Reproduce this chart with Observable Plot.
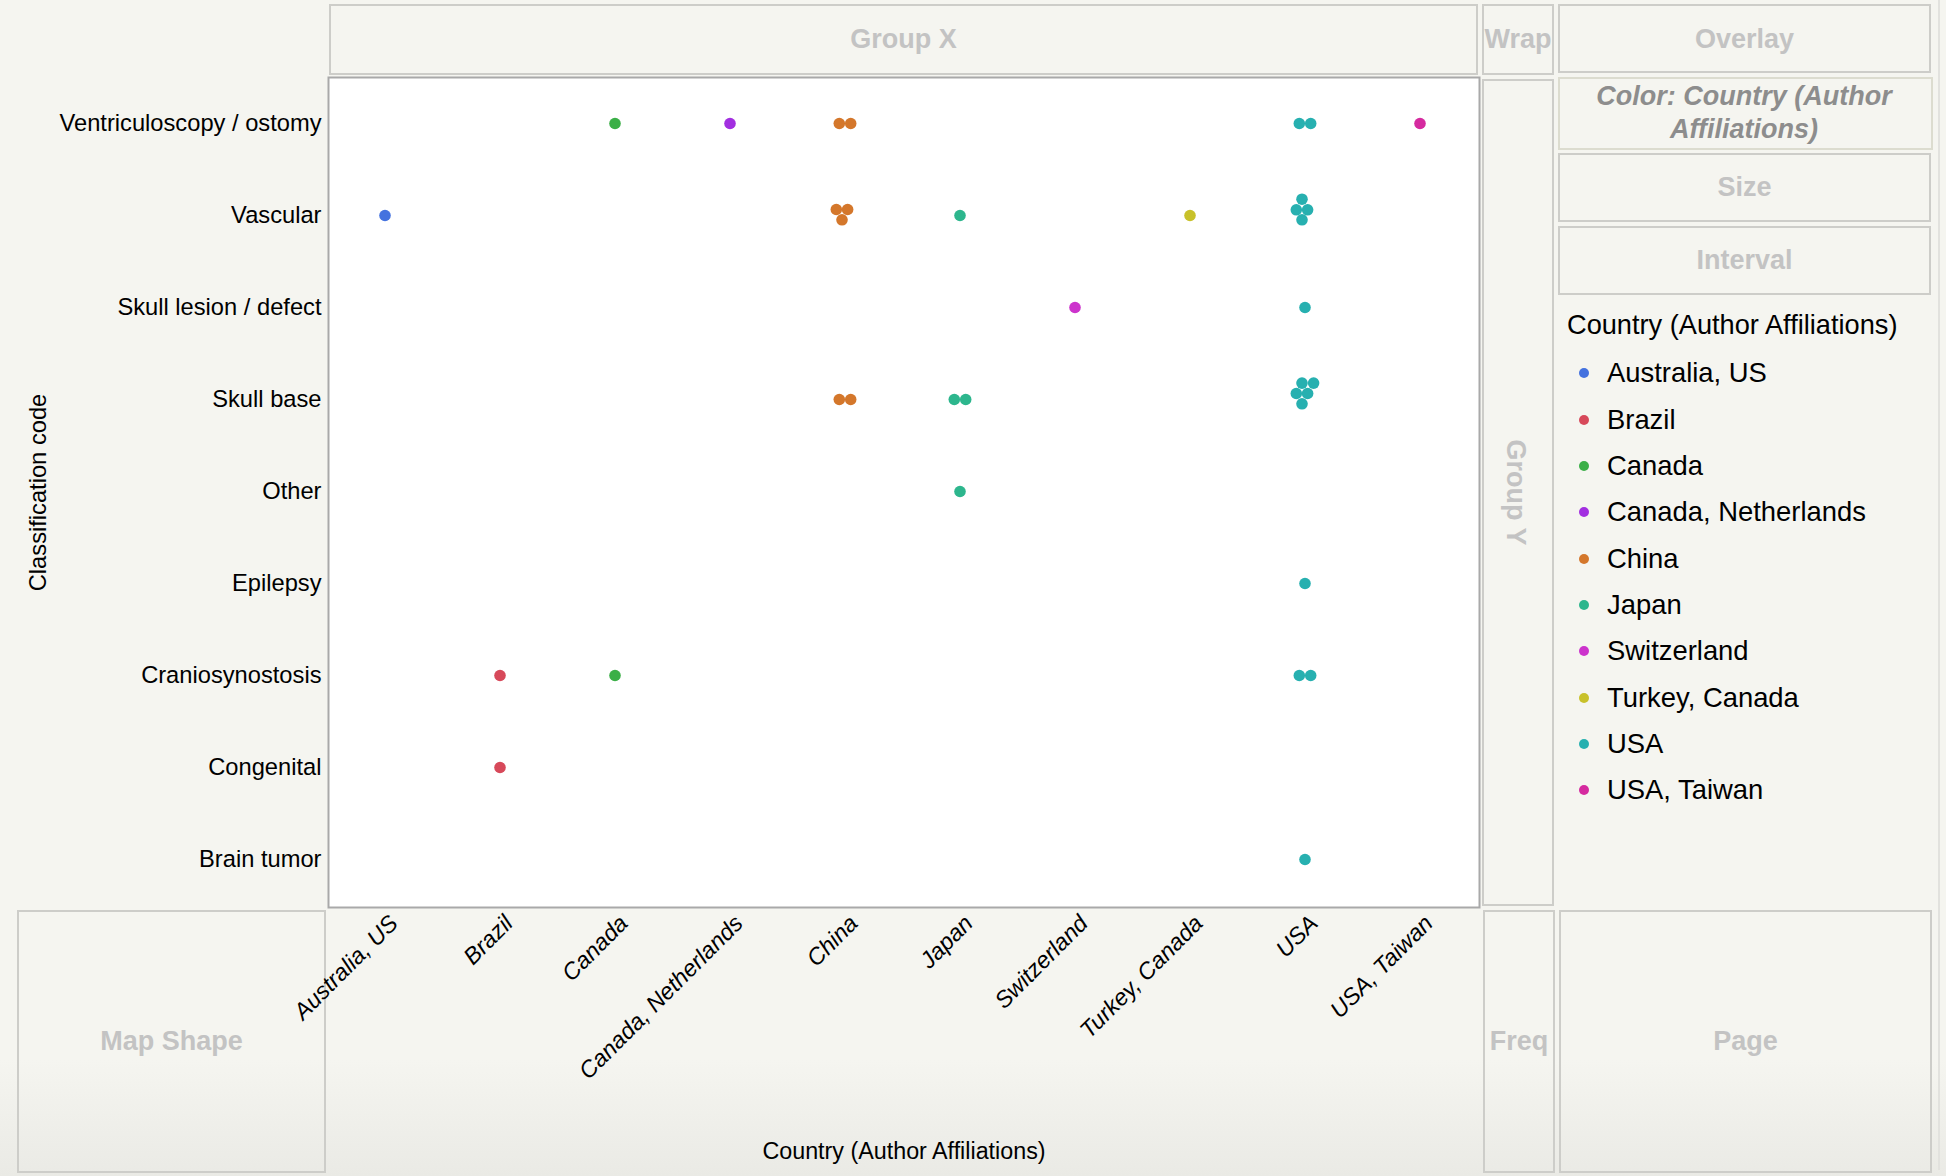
<!DOCTYPE html>
<html>
<head>
<meta charset="utf-8">
<script src="https://cdn.jsdelivr.net/npm/d3@7"></script>
<script src="https://cdn.jsdelivr.net/npm/@observablehq/plot@0.6"></script>
<style>
  html, body { margin: 0; padding: 0; background: #f5f5f0; }
  body { width: 1946px; height: 1176px; position: relative; overflow: hidden;
         font-family: "Liberation Sans", Arial, Helvetica, sans-serif; }
  .box { position: absolute; box-sizing: border-box; border: 2px solid #cdcdc9; background: #f5f5f0;
         display: flex; align-items: center; justify-content: center; color: #c3c3c3;
         font-weight: bold; font-size: 27px; white-space: nowrap; overflow: visible; }
  .box.color { color: #8d8d8d; font-style: italic; border-color: #dcdccf; text-align: center;
               line-height: 33px; white-space: normal; padding-bottom: 1px; padding-right: 3px; }
  .vert { transform: rotate(90deg); display: inline-block; }
  #fade { position: absolute; left: 0; top: 1060px; width: 1946px; height: 116px;
          background: linear-gradient(#f5f5f0, #eaeae5); }
  #chart { position: absolute; left: 0; top: 0; }
  #chart g[aria-label="x-axis tick label"] text { font-style: italic; }
  #legend { position: absolute; left: 1558px; top: 302px; width: 372px; font-size: 27.4px; color: #000; }
  #legend .row { height: 46.35px; display: flex; align-items: center; white-space: nowrap; }
  #legend .title { padding-left: 9px; font-size: 27.2px; height: 48.2px; padding-bottom: 2px; box-sizing: border-box; }
  #legend .sw { width: 10px; height: 10px; border-radius: 50%; margin-left: 21px; margin-right: 18px; flex: none; }
  #edge { position: absolute; left: 1938px; top: 0; width: 2px; height: 1170px; background: #e2e2de; }
</style>
</head>
<body>
<div id="fade"></div>
<div id="edge"></div>
<div class="box" style="left:329px;top:4px;width:1149px;height:71px;">Group X</div>
<div class="box" style="left:1482px;top:4px;width:72px;height:71px;">Wrap</div>
<div class="box" style="left:1558px;top:4px;width:373px;height:69px;padding-top:2px;">Overlay</div>
<div class="box color" style="left:1558px;top:77px;width:375px;height:73px;">Color: Country (Author<br>Affiliations)</div>
<div class="box" style="left:1558px;top:153px;width:373px;height:69px;">Size</div>
<div class="box" style="left:1558px;top:226px;width:373px;height:69px;">Interval</div>
<div class="box" style="left:1482px;top:79px;width:72px;height:827px;padding-right:6px;"><span class="vert">Group Y</span></div>
<div class="box" style="left:17px;top:910px;width:309px;height:263px;background:transparent;">Map Shape</div>
<div class="box" style="left:1483px;top:910px;width:72px;height:263px;background:transparent;">Freq</div>
<div class="box" style="left:1559px;top:910px;width:373px;height:263px;background:transparent;">Page</div>
<div id="legend"></div>
<div id="chart"></div>
<script>
// ---- data ----
const categories = [
  "Ventriculoscopy / ostomy", "Vascular", "Skull lesion / defect", "Skull base",
  "Other", "Epilepsy", "Craniosynostosis", "Congenital", "Brain tumor"
];
const countries = [
  "Australia, US", "Brazil", "Canada", "Canada, Netherlands", "China",
  "Japan", "Switzerland", "Turkey, Canada", "USA", "USA, Taiwan"
];
const countryColors = [
  "#4472df", "#d7495a", "#3baf47", "#a22fe0", "#d4772b",
  "#2db68d", "#cc33cc", "#c8c12a", "#27b0b0", "#d52a9f"
];
// one entry per non-empty cell: classification, country, number of papers
const cellClass = [
  "Ventriculoscopy / ostomy", "Ventriculoscopy / ostomy", "Ventriculoscopy / ostomy", "Ventriculoscopy / ostomy", "Ventriculoscopy / ostomy",
  "Vascular", "Vascular", "Vascular", "Vascular", "Vascular",
  "Skull lesion / defect", "Skull lesion / defect",
  "Skull base", "Skull base", "Skull base",
  "Other",
  "Epilepsy",
  "Craniosynostosis", "Craniosynostosis", "Craniosynostosis",
  "Congenital",
  "Brain tumor"
];
const cellCountry = [
  "Canada", "Canada, Netherlands", "China", "USA", "USA, Taiwan",
  "Australia, US", "China", "Japan", "Turkey, Canada", "USA",
  "Switzerland", "USA",
  "China", "Japan", "USA",
  "Japan",
  "USA",
  "Brazil", "Canada", "USA",
  "Brazil",
  "USA"
];
const cellCount = [
  1, 1, 2, 2, 1,
  1, 3, 1, 1, 4,
  1, 1,
  2, 2, 5,
  1,
  1,
  1, 1, 2,
  1,
  1
];

// ---- layout: pixel offsets of packed dots within a cell (by cluster size) ----
const packOffsets = {
  1: [[0, 0]],
  2: [[-5.7, 0], [5.7, 0]],
  3: [[-8.7, -6], [2.6, -6], [-3, 4.3]],
  4: [[-3, -16.3], [-8.7, -5.7], [2.6, -5.7], [-3, 4.3]],
  5: [[-3, -16.4], [8.6, -16.4], [-8.7, -6], [2.6, -6], [-3, 4.3]]
};
const cellShift = [-2, -1];

const points = [];
cellClass.forEach((c, i) => {
  for (let k = 0; k < cellCount[i]; k++) {
    points.push({cls: c, country: cellCountry[i], n: cellCount[i], k});
  }
});

const dotMarks = [];
for (const n of Object.keys(packOffsets).map(Number)) {
  packOffsets[n].forEach(([dx, dy], k) => {
    const subset = points.filter(p => p.n === n && p.k === k);
    if (subset.length) {
      dotMarks.push(Plot.dot(subset, {
        x: "country", y: "cls", fill: "country", r: 5.8,
        dx: dx + cellShift[0], dy: dy + cellShift[1]
      }));
    }
  });
}

const chart = Plot.plot({
  width: 1480,
  height: 1176,
  marginLeft: 328,
  marginTop: 77,
  marginRight: 1,
  marginBottom: 269,
  style: {background: "transparent", fontFamily: "'Liberation Sans', Arial, Helvetica, sans-serif",
          fontSize: "23px", color: "#000", overflow: "visible"},
  x: {type: "band", domain: countries, padding: 0},
  y: {type: "band", domain: categories, padding: 0},
  color: {domain: countries, range: countryColors},
  marks: [
    Plot.frame({fill: "white", stroke: "#a9a9a9", strokeWidth: 2}),
    Plot.axisY({tickSize: 0, tickPadding: 7, fontSize: 23.7, dy: -1,
                label: "Classification code", labelAnchor: "center", labelArrow: "none", labelOffset: 299}),
    Plot.axisX({tickSize: 0, tickRotate: -45, tickPadding: 12, dx: 7, fontSize: 23.3,
                label: "Country (Author Affiliations)", labelAnchor: "center", labelArrow: "none", labelOffset: 251}),
    ...dotMarks
  ]
});
document.getElementById("chart").appendChild(chart);

// ---- legend ----
const legend = d3.select("#legend");
legend.append("div").attr("class", "row title").text("Country (Author Affiliations)");
countries.forEach((c, i) => {
  const row = legend.append("div").attr("class", "row");
  row.append("span").attr("class", "sw").style("background", countryColors[i]);
  row.append("span").text(c);
});
</script>
</body>
</html>
